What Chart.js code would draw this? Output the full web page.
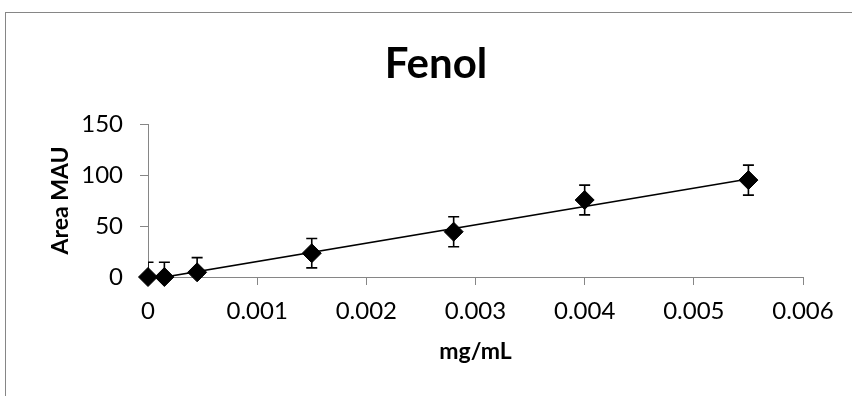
<!DOCTYPE html>
<html>
<head>
<meta charset="utf-8">
<script src="https://cdn.jsdelivr.net/npm/chart.js@4.4.1/dist/chart.umd.min.js"></script>
<style>
  html, body { margin: 0; padding: 0; background: #fff; }
  #wrap { position: relative; width: 852px; height: 396px; overflow: hidden; }
</style>
</head>
<body>
<div id="wrap"><canvas id="fenolChart" width="852" height="396"></canvas></div>
<script>
// data
const concentrations = [0, 0.00015, 0.00045, 0.0015, 0.0028, 0.004, 0.0055];
const areaMau = [0, 0, 4.6, 23.3, 44.4, 75.5, 95];
const errorMau = [14.4, 14.4, 14.4, 14.4, 14.7, 14.6, 14.7];

// linear trendline ends (as drawn in the picture)
const trendX = [0, 0.0055];
const trendY = [-2.8, 96];

const xTicks = [0, 0.001, 0.002, 0.003, 0.004, 0.005, 0.006];
const xTickLabels = ["0", "0.001", "0.002", "0.003", "0.004", "0.005", "0.006"];
const yTicks = [0, 50, 100, 150];
const yTickLabels = ["0", "50", "100", "150"];

const TITLE = "Fenol";
const AXIS_GREY = "#868686";
const FONT = "Lato";

const points = concentrations.map((x, i) => ({ x, y: areaMau[i] }));
const trend = trendX.map((x, i) => ({ x, y: trendY[i] }));

// white background, outer chart frame and the title (centred on the frame, not the plot)
const frame = {
    id: "frame",
    beforeDraw(chart) {
        const { ctx } = chart;
        ctx.save();
        ctx.fillStyle = "#fff";
        ctx.fillRect(0, 0, chart.width, chart.height);
        ctx.strokeStyle = AXIS_GREY;
        ctx.lineWidth = 1;
        ctx.strokeRect(5.5, 12.5, chart.width + 20, chart.height + 20);
        ctx.fillStyle = "#000";
        ctx.font = `bold 42px ${FONT}`;
        ctx.textAlign = "center";
        ctx.textBaseline = "middle";
        ctx.fillText(TITLE, 436, 64);
        ctx.restore();
    },
};

const errorBars = {
    id: "errorBars",
    beforeDatasetsDraw(chart) {
        const { ctx, chartArea } = chart;
        const xs = chart.scales.x;
        const ys = chart.scales.y;
        ctx.save();
        ctx.beginPath();
        ctx.rect(chartArea.left, chartArea.top, chartArea.right - chartArea.left, chartArea.bottom - chartArea.top);
        ctx.clip();
        ctx.strokeStyle = "#000";
        ctx.lineWidth = 1.6;
        const cap = 5.5;
        concentrations.forEach((c, i) => {
            const px = xs.getPixelForValue(c);
            const top = ys.getPixelForValue(areaMau[i] + errorMau[i]);
            const bot = ys.getPixelForValue(areaMau[i] - errorMau[i]);
            ctx.beginPath();
            ctx.moveTo(px, top);
            ctx.lineTo(px, bot);
            ctx.moveTo(px - cap, top);
            ctx.lineTo(px + cap, top);
            ctx.moveTo(px - cap, bot);
            ctx.lineTo(px + cap, bot);
            ctx.stroke();
        });
        ctx.restore();
    },
};

new Chart(document.getElementById("fenolChart"), {
    type: "scatter",
    data: {
        datasets: [
            {
                label: "Fenol",
                data: points,
                pointStyle: "rectRot",
                pointRadius: 9.5,
                pointHoverRadius: 9.5,
                backgroundColor: "#000",
                borderColor: "#000",
                borderWidth: 1,
                clip: false,
            },
            {
                type: "line",
                label: "Linear",
                data: trend,
                borderColor: "#000",
                borderWidth: 1.6,
                pointRadius: 0,
                fill: false,
            },
        ],
    },
    plugins: [frame, errorBars],
    options: {
        responsive: false,
        animation: false,
        devicePixelRatio: 1,
        layout: { padding: { left: 0, right: 49, top: 124, bottom: 0 } },
        plugins: {
            legend: { display: false },
            tooltip: { enabled: false },
            title: { display: false },
        },
        scales: {
            x: {
                type: "linear",
                min: 0,
                max: 0.006,
                afterBuildTicks: (axis) => { axis.ticks = xTicks.map((v) => ({ value: v })); },
                afterFit: (axis) => { axis.height = 119; },
                ticks: {
                    color: "#000",
                    padding: 12,
                    maxRotation: 0,
                    font: { family: FONT, size: 24 },
                    callback: (v, i) => xTickLabels[i],
                },
                grid: { drawOnChartArea: false, drawTicks: true, tickLength: 8, color: AXIS_GREY, lineWidth: 1 },
                border: { display: true, color: AXIS_GREY, width: 1 },
                title: {
                    display: true,
                    text: "mg/mL",
                    color: "#000",
                    font: { family: FONT, size: 23, weight: "bold", lineHeight: 1.2 },
                    padding: { top: 0, bottom: 31 },
                },
            },
            y: {
                type: "linear",
                min: 0,
                max: 150,
                afterBuildTicks: (axis) => { axis.ticks = yTicks.map((v) => ({ value: v })); },
                afterFit: (axis) => { axis.width = 148; },
                ticks: {
                    color: "#000",
                    padding: 17,
                    font: { family: FONT, size: 24 },
                    callback: (v, i) => yTickLabels[i],
                },
                grid: { drawOnChartArea: false, drawTicks: true, tickLength: 8, color: AXIS_GREY, lineWidth: 1 },
                border: { display: true, color: AXIS_GREY, width: 1 },
                title: {
                    display: true,
                    text: "Area MAU",
                    color: "#000",
                    font: { family: FONT, size: 23, weight: "bold", lineHeight: 1.2 },
                    padding: { top: 47, bottom: 0 },
                },
            },
        },
    },
});
</script>
</body>
</html>
